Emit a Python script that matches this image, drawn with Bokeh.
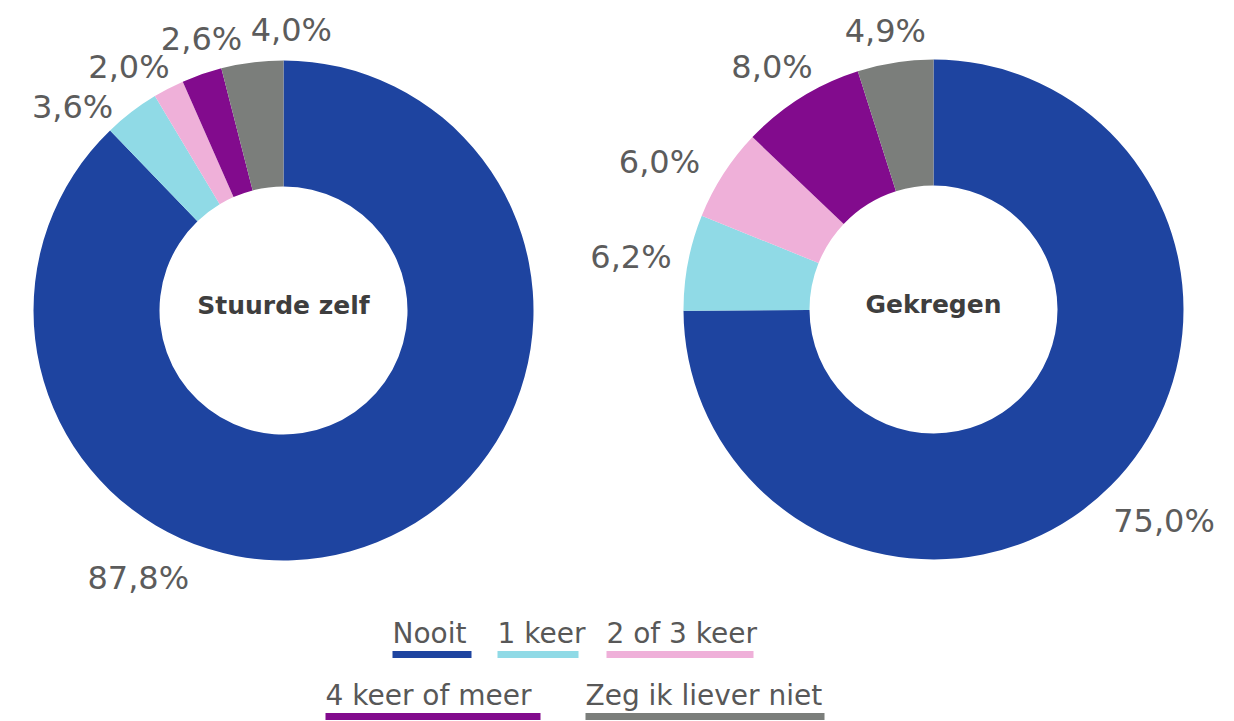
import math
from bokeh.plotting import figure
from bokeh.models import Range1d, ColumnDataSource
from bokeh.core.properties import value
from bokeh.embed import file_html
from bokeh.resources import INLINE

# ---- data ----
categories = ["Nooit", "1 keer", "2 of 3 keer", "4 keer of meer", "Zeg ik liever niet"]
stuurde_zelf = [87.8, 3.6, 2.0, 2.6, 4.0]
gekregen = [75.0, 6.2, 6.0, 8.0, 4.9]
chart_titles = ["Stuurde zelf", "Gekregen"]
colors = ["#1E44A0", "#90DAE6", "#EFB0D9", "#820B8D", "#7B7E7B"]

# ---- layout (screen-like coordinates) ----
W, H = 1234, 721
centers = [(283, 721 - 310), (933, 721 - 309)]
R_OUT, R_IN = 250, 124
# per-label nudge (degrees from slice mid-angle) and distance from centre
label_shift = [[-50.5, 8.6, 5.1, -2.3, -8.8], [2.3, 1.1, 4.6, 1.7, 1.0]]
label_dist = [[304, 293, 288, 284, 281], [313, 307, 311, 291, 283]]

FONT = "DejaVu Sans"

p = figure(width=W, height=H, output_backend="svg", toolbar_location=None,
           x_range=Range1d(0, W), y_range=Range1d(721 - H, 721),
           min_border=0, outline_line_color=None)
p.axis.visible = False
p.grid.visible = False
p.background_fill_color = "white"
p.border_fill_color = "white"

for series, (cx, cy), title, shifts, dists in zip(
        [stuurde_zelf, gekregen], centers, chart_titles, label_shift, label_dist):
    total = sum(series)
    starts, ends, lx, ly, labels = [], [], [], [], []
    cum = 0.0
    for v, sh, d in zip(series, shifts, dists):
        a0 = math.pi / 2 - 2 * math.pi * cum / total
        cum += v
        a1 = math.pi / 2 - 2 * math.pi * cum / total
        starts.append(a0)
        ends.append(a1)
        mid = (a0 + a1) / 2 + math.radians(sh)
        lx.append(cx + d * math.cos(mid))
        ly.append(cy + d * math.sin(mid))
        labels.append(f"{v:.1f}".replace(".", ",") + "%")
    src = ColumnDataSource(dict(x=[cx] * len(series), y=[cy] * len(series),
                                start=starts, end=ends, color=colors))
    p.annular_wedge(x="x", y="y", inner_radius=R_IN, outer_radius=R_OUT,
                    start_angle="start", end_angle="end", direction="clock",
                    fill_color="color", line_color=None, source=src)
    p.text(x=lx, y=ly, text=labels, text_font=value(FONT), text_font_size="32px",
           text_color="#5c5c5c", text_align="center", text_baseline="middle")
    p.text(x=[cx], y=[cy + 5], text=[title], text_font=value(FONT),
           text_font_size="25px", text_font_style="bold", text_color="#3e3e3e",
           text_align="center", text_baseline="middle")

# ---- legend (text with coloured underline) ----
leg_x = [392, 497, 606, 325, 585]
leg_w = [79, 81, 147, 215, 239]
leg_row = [0, 0, 0, 1, 1]
text_y = [721 - 633, 721 - 695]
bar_y = [721 - 654, 721 - 716]
p.text(x=leg_x, y=[text_y[r] for r in leg_row], text=categories,
       text_font=value(FONT), text_font_size="28px", text_color="#585858",
       text_align="left", text_baseline="middle")
p.rect(x=[x + w / 2 for x, w in zip(leg_x, leg_w)], y=[bar_y[r] for r in leg_row],
       width=leg_w, height=7, fill_color=colors, line_color=None)

open("out.html", "w").write(file_html(p, INLINE))
